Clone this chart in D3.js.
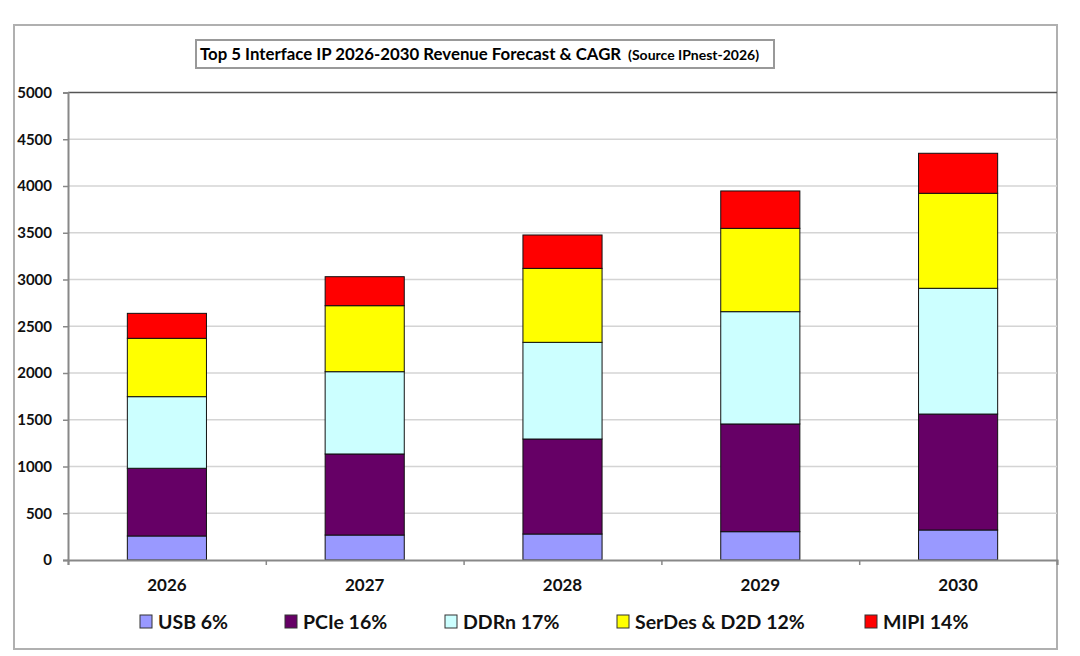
<!DOCTYPE html>
<html>
<head>
<meta charset="utf-8">
<script src="https://cdn.jsdelivr.net/npm/d3@7"></script>
<style>
  body { margin: 0; background: #fff; }
  svg { font-family: Lato, "Open Sans", sans-serif; font-weight: bold; }
</style>
</head>
<body>
<svg width="1080" height="656"></svg>
<script>
// data (revenue per segment, $M)
const years = ["2026", "2027", "2028", "2029", "2030"];
const seriesNames = ["USB 6%", "PCIe 16%", "DDRn 17%", "SerDes & D2D 12%", "MIPI 14%"];
const usb    = [257, 267, 278, 303, 321];
const pcie   = [724, 867, 1016, 1152, 1240];
const ddrn   = [766, 880, 1034, 1201, 1345];
const serdes = [624, 706, 791, 891, 1016];
const mipi   = [267, 310, 357, 400, 428];
const yTicks = [0, 500, 1000, 1500, 2000, 2500, 3000, 3500, 4000, 4500, 5000];
const colors = ["#9999ff", "#660066", "#ccffff", "#ffff00", "#ff0000"];

const keys = ["usb", "pcie", "ddrn", "serdes", "mipi"];
const table = years.map((y, i) => ({
  year: y, usb: usb[i], pcie: pcie[i], ddrn: ddrn[i], serdes: serdes[i], mipi: mipi[i]
}));

const svg = d3.select("svg");
const plot = {left: 68, right: 1057, top: 92.5, bottom: 560};

// outer frame
svg.append("rect").attr("x", 14).attr("y", 25).attr("width", 1043).attr("height", 624)
  .attr("fill", "none").attr("stroke", "#b0b0b0").attr("stroke-width", 2);

// title box
svg.append("rect").attr("x", 196).attr("y", 40).attr("width", 578).attr("height", 28)
  .attr("fill", "#fff").attr("stroke", "#999").attr("stroke-width", 2);
const title = svg.append("text").attr("x", 200).attr("y", 60).style("font-size", "16.8px");
title.append("tspan").text("Top 5 Interface IP 2026-2030 Revenue Forecast & CAGR");
title.append("tspan").attr("dx", 7).style("font-size", "14px").text("(Source IPnest-2026)");

const x = d3.scaleBand().domain(years).range([plot.left, plot.right]).paddingInner(0.6).paddingOuter(0.3);
const y = d3.scaleLinear().domain([0, 5000]).range([plot.bottom, plot.top]);

// gridlines
svg.append("g").selectAll("line").data(yTicks.filter(t => t > 0 && t < 5000)).enter().append("line")
  .attr("x1", plot.left).attr("x2", plot.right)
  .attr("y1", d => y(d)).attr("y2", d => y(d))
  .attr("stroke", "#d4d4d4").attr("stroke-width", 1.5);
svg.append("line").attr("x1", plot.left).attr("x2", plot.right)
  .attr("y1", y(5000)).attr("y2", y(5000)).attr("stroke", "#555").attr("stroke-width", 1.5);

// stacked bars
const stacked = d3.stack().keys(keys)(table);
svg.append("g").selectAll("g").data(stacked).enter().append("g")
  .attr("fill", (d, i) => colors[i])
  .selectAll("rect").data(d => d).enter().append("rect")
  .attr("x", d => x(d.data.year))
  .attr("width", x.bandwidth())
  .attr("y", d => y(d[1]))
  .attr("height", d => y(d[0]) - y(d[1]))
  .attr("stroke", "#111").attr("stroke-width", 1);

// y axis
const yAxis = svg.append("g").attr("transform", `translate(${plot.left},0)`)
  .call(d3.axisLeft(y).tickValues(yTicks).tickSize(5).tickPadding(11).tickFormat(d3.format("d")));
yAxis.select(".domain").attr("stroke", "#888").attr("stroke-width", 2);
yAxis.selectAll(".tick line").attr("stroke", "#888").attr("stroke-width", 1.5);
yAxis.selectAll("text").style("font-size", "15px").attr("fill", "#111")
  .style("font-family", "Lato, sans-serif").style("font-weight", "bold");

// x axis, ticks at band edges
const xEdges = d3.scaleLinear().domain([0, years.length]).range([plot.left, plot.right]);
const xAxis = svg.append("g").attr("transform", `translate(0,${plot.bottom})`)
  .call(d3.axisBottom(xEdges).tickValues(d3.range(years.length + 1)).tickSize(5).tickFormat(""));
xAxis.select(".domain").attr("stroke", "#888").attr("stroke-width", 2);
xAxis.selectAll(".tick line").attr("stroke", "#888").attr("stroke-width", 1.5);

svg.append("g").selectAll("text").data(years).enter().append("text")
  .attr("x", d => x(d) + x.bandwidth() / 2).attr("y", 591)
  .attr("text-anchor", "middle").style("font-size", "17px").attr("fill", "#111")
  .text(d => d);

// legend
const legendX = [140, 285, 445, 617, 865];
const legend = svg.append("g").selectAll("g").data(seriesNames).enter().append("g")
  .attr("transform", (d, i) => `translate(${legendX[i]},615)`);
legend.append("rect").attr("width", 12).attr("height", 13)
  .attr("fill", (d, i) => colors[i]).attr("stroke", "#333").attr("stroke-width", 1);
legend.append("text").attr("x", 18).attr("y", 14).style("font-size", "19.5px").attr("fill", "#111")
  .text(d => d);
</script>
</body>
</html>
